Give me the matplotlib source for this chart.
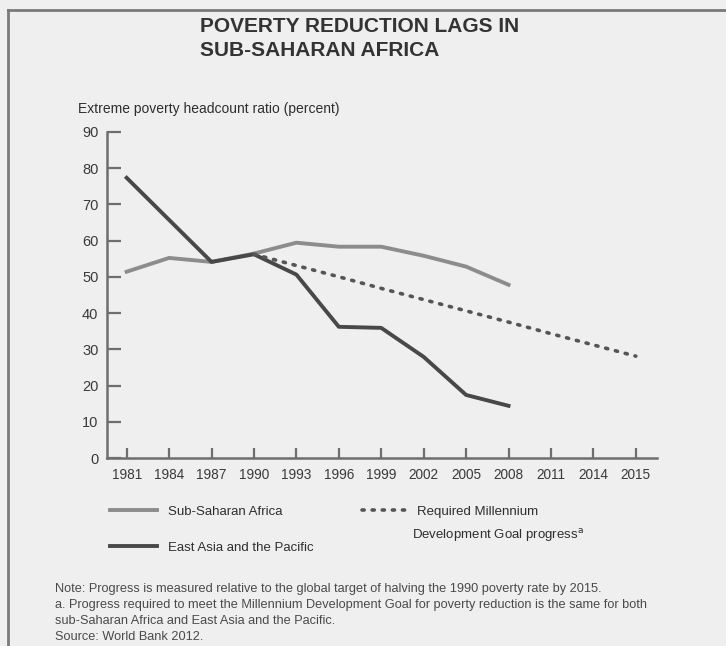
import matplotlib
matplotlib.use("Agg")
import matplotlib.pyplot as plt

years = ["1981", "1984", "1987", "1990", "1993", "1996", "1999",
         "2002", "2005", "2008", "2011", "2014", "2015"]
ssa = [51.4, 55.2, 54.1, 56.4, 59.4, 58.3, 58.3, 55.8, 52.8, 47.8]
eap = [77.3, 65.7, 54.1, 56.2, 50.6, 36.2, 35.9, 27.9, 17.4, 14.4]
# required MDG path, 1990 -> 2015
mdg = [56.2, 53.1, 50.0, 46.8, 43.7, 40.6, 37.5, 34.3, 31.2, 28.1]

plt.rcParams["font.family"] = ["Liberation Sans", "DejaVu Sans"]

bg = "#efeff0"
fig = plt.figure(figsize=(7.26, 6.46), dpi=100, facecolor=bg)
ax = fig.add_axes([0.147, 0.291, 0.758, 0.505], facecolor=bg)

x = list(range(len(years)))
l1, = ax.plot(x[:len(ssa)], ssa, color="#8c8c8c", lw=2.8, solid_joinstyle="round")
l2, = ax.plot(x[:len(eap)], eap, color="#484848", lw=2.8, solid_joinstyle="round")
l3, = ax.plot(x[3:3 + len(mdg)], mdg, color="#555555", lw=2.6,
              linestyle=(0, (0.6, 2.2)), dash_capstyle="round")

ax.set_xlim(-0.47, 12.5)
ax.set_ylim(0, 90)
ax.set_yticks(range(0, 91, 10))
ax.set_xticks(x)
ax.set_xticklabels(years)
for s in ["top", "right"]:
    ax.spines[s].set_visible(False)
for s in ["left", "bottom"]:
    ax.spines[s].set_color("#6e6e6e")
    ax.spines[s].set_linewidth(1.8)
ax.tick_params(axis="y", direction="in", length=10, width=1.6, color="#6e6e6e",
               labelsize=10.5, labelcolor="#3a3a3a", pad=6)
ax.tick_params(axis="x", direction="in", length=7, width=1.6, color="#6e6e6e",
               labelsize=9.8, labelcolor="#3a3a3a", pad=7)

fig.text(0.275, 0.973, "POVERTY REDUCTION LAGS IN\nSUB-SAHARAN AFRICA",
         fontsize=15, fontweight="bold", color="#333333", va="top",
         linespacing=1.3)
fig.text(0.107, 0.832, "Extreme poverty headcount ratio (percent)",
         fontsize=10, color="#2e2e2e", va="center")

leg1 = fig.legend([l1, l2], ["Sub-Saharan Africa", "East Asia and the Pacific"],
                  loc="upper left", bbox_to_anchor=(0.135, 0.236),
                  frameon=False, fontsize=9.5, handlelength=3.6,
                  labelspacing=1.8, handletextpad=0.8, labelcolor="#2e2e2e")
leg2 = fig.legend([l3], ["Required Millennium"],
                  loc="upper left", bbox_to_anchor=(0.482, 0.236),
                  frameon=False, fontsize=9.5, handlelength=3.6,
                  handletextpad=0.6, labelcolor="#2e2e2e")
fig.text(0.567, 0.171, "Development Goal progress$^{\\mathrm{a}}$",
         fontsize=9.5, color="#2e2e2e", va="center")

notes = ("Note: Progress is measured relative to the global target of halving the 1990 poverty rate by 2015.\n"
         "a. Progress required to meet the Millennium Development Goal for poverty reduction is the same for both\n"
         "sub-Saharan Africa and East Asia and the Pacific.\n"
         "Source: World Bank 2012.")
fig.text(0.076, 0.098, notes, fontsize=9.2, color="#4a4a4a", va="top",
         linespacing=1.45)

# frame lines at left and top
fig.add_artist(plt.Line2D([0.011, 0.011], [0, 0.985], color="#7a7a7a", lw=2))
fig.add_artist(plt.Line2D([0.011, 1.0], [0.985, 0.985], color="#7a7a7a", lw=2))

fig.savefig("out.png", dpi=100, facecolor=bg)
